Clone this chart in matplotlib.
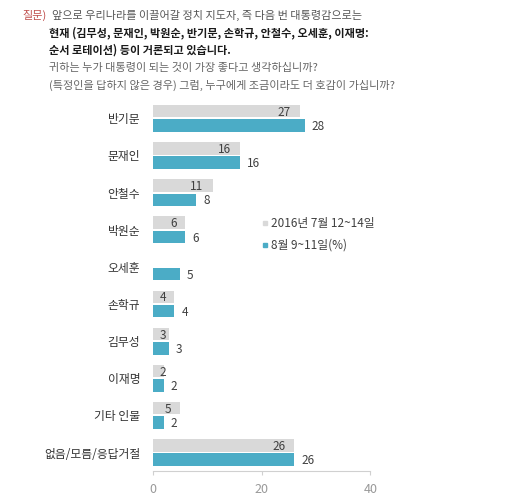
import numpy as np
import matplotlib
matplotlib.use("Agg")
from matplotlib import pyplot as plt
from matplotlib.lines import Line2D

plt.rcParams['font.family'] = ['Noto Sans CJK KR', 'DejaVu Sans']

# data
categories = ['반기문', '문재인', '안철수', '박원순', '오세훈',
              '손학규', '김무성', '이재명', '기타 인물', '없음/모름/응답거절']
july = [27, 16, 11, 6, None, 4, 3, 2, 5, 26]
august = [28, 16, 8, 6, 5, 4, 3, 2, 2, 26]
series_names = ['2016년 7월 12~14일', '8월 9~11일(%)']
xticks = [0, 20, 40]

question_tag = '질문)'
question_lines = [
    ('앞으로 우리나라를 이끌어갈 정치 지도자, 즉 다음 번 대통령감으로는', 'normal', '#555555'),
    ('현재 (김무성, 문재인, 박원순, 반기문, 손학규, 안철수, 오세훈, 이재명:', 'bold', '#1a1a1a'),
    ('순서 로테이션) 등이 거론되고 있습니다.', 'bold', '#1a1a1a'),
    ('귀하는 누가 대통령이 되는 것이 가장 좋다고 생각하십니까?', 'normal', '#666666'),
    ('(특정인을 답하지 않은 경우) 그럼, 누구에게 조금이라도 더 호감이 가십니까?', 'normal', '#666666'),
]

GREY = '#d9d9d9'
TEAL = '#4bacc6'
TXT = '#404040'

W, H = 524, 495
fig = plt.figure(figsize=(W / 100, H / 100), dpi=100)
ax = fig.add_axes([152.7 / W, 1 - 470.7 / H, 217.6 / W, 370.9 / H])

y = np.arange(len(categories))
bh = 0.337
off = 0.195
px_per_unit = 217.6 / 40

jv = np.array([np.nan if v is None else v for v in july], dtype=float)
ax.barh(y - off, jv, height=bh, color=GREY)
ax.barh(y + off, august, height=bh, color=TEAL)

# grey labels sit inside the bar end, but never left of ~2
for yi, v in zip(y, july):
    if v is None:
        continue
    w = 7 * len(str(v))
    xc = max(v - (8.5 + w / 2) / px_per_unit, 1.9)
    ax.text(xc, yi - off + 0.03, str(v), ha='center', va='center',
            fontsize=8.5, color=TXT)

for yi, v in zip(y, august):
    ax.annotate(str(v), (v, yi + off + 0.03), xytext=(5, 0),
                textcoords='offset points', ha='left', va='center',
                fontsize=8.5, color=TXT)

ax.set_xlim(0, 40)
ax.set_ylim(9.49, -0.5)
ax.set_xticks(xticks)
ax.set_yticks(y)
ax.set_yticklabels(categories)
ax.tick_params(axis='y', length=0, pad=9, labelsize=8.5, labelcolor='#333333')
ax.tick_params(axis='x', length=3, color='#d0d0d0', pad=6,
               labelsize=9, labelcolor='#999999')
for side in ['top', 'right', 'left']:
    ax.spines[side].set_visible(False)
ax.spines['bottom'].set_color('#d0d0d0')

handles = [Line2D([], [], marker='s', ls='', ms=3.5, color=GREY),
           Line2D([], [], marker='s', ls='', ms=3.5, color=TEAL)]
fig.legend(handles, series_names, loc='upper left',
           bbox_to_anchor=(256 / W, 1 - 211 / H), frameon=False,
           fontsize=8.5, handlelength=0.6, handletextpad=0.2,
           labelspacing=0.75, borderpad=0, labelcolor=TXT)

# question text
fig.text(22 / W, 1 - 15 / H, question_tag, color='#c0504d', fontsize=8,
         va='center', ha='left')
line_y = [15, 33, 50.5, 68, 85]
for (txt, wt, col), ly in zip(question_lines, line_y):
    x0 = 52 if ly == line_y[0] else 49
    fig.text(x0 / W, 1 - ly / H, txt, color=col, fontsize=8, fontweight=wt,
             va='center', ha='left')

fig.savefig('out.png', dpi=100)
